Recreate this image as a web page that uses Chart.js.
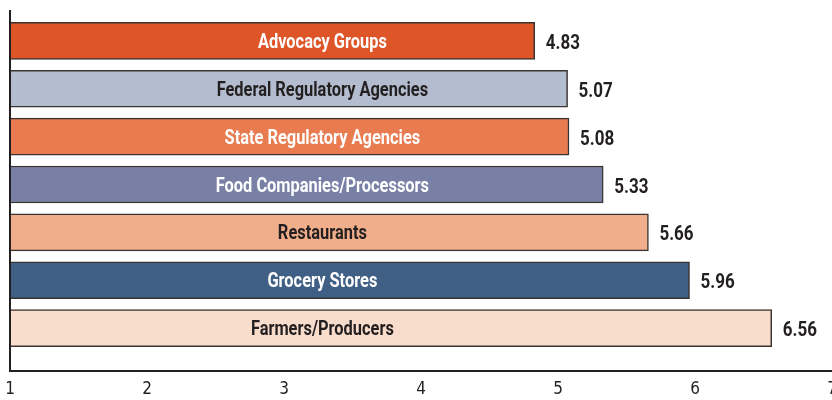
<!DOCTYPE html>
<html>
<head>
<meta charset="utf-8">
<script src="https://cdn.jsdelivr.net/npm/chart.js@4/dist/chart.umd.min.js"></script>
<style>
  html, body { margin: 0; padding: 0; background: #fff; }
  #wrap { width: 832px; height: 400px; position: relative; }
</style>
</head>
<body>
<div id="wrap"><canvas id="trustChart"></canvas></div>
<script>
const categories = ['Advocacy Groups', 'Federal Regulatory Agencies', 'State Regulatory Agencies',
    'Food Companies/Processors', 'Restaurants', 'Grocery Stores', 'Farmers/Producers'];
const scores = [4.83, 5.07, 5.08, 5.33, 5.66, 5.96, 6.56];
const xTicks = [1, 2, 3, 4, 5, 6, 7];
const barColors = ['#de5628', '#b4bdcf', '#e87b50', '#7880a6', '#f0ae8a', '#3f5f85', '#f8ddcc'];
const textColors = ['#ffffff', '#231f20', '#ffffff', '#ffffff', '#231f20', '#ffffff', '#231f20'];

const FONT = 'Roboto, "DejaVu Sans", sans-serif';
const INK = '#231f20';

// squeeze text horizontally to fake a condensed face
function condensedText(ctx, text, x, y, squeeze, align) {
    ctx.save();
    ctx.translate(x, y);
    ctx.scale(squeeze, 1);
    ctx.textAlign = align;
    ctx.fillText(text, 0, 0);
    ctx.restore();
}

// axis lines + in-bar and end-of-bar labels
const labelPlugin = {
    id: 'barLabels',
    afterDatasetsDraw(chart) {
        const ctx = chart.ctx;
        const area = chart.chartArea;
        const xs = chart.scales.x;
        const meta = chart.getDatasetMeta(0);
        ctx.save();
        ctx.textBaseline = 'middle';
        ctx.font = 'bold 20px ' + FONT;
        meta.data.forEach((bar, i) => {
            ctx.fillStyle = textColors[i];
            condensedText(ctx, categories[i], xs.getPixelForValue(3.28), bar.y + 2, 0.82, 'center');
            ctx.fillStyle = INK;
            condensedText(ctx, scores[i].toFixed(2), bar.x + 11, bar.y + 3, 0.85, 'left');
        });
        // axes
        ctx.strokeStyle = INK;
        ctx.lineWidth = 2;
        ctx.beginPath();
        ctx.moveTo(area.left, area.top - 7);
        ctx.lineTo(area.left, area.bottom + 19);
        ctx.lineTo(area.right, area.bottom + 19);
        ctx.stroke();
        ctx.restore();
    }
};

new Chart(document.getElementById('trustChart'), {
    type: 'bar',
    data: {
        labels: categories,
        datasets: [{
            data: scores,
            backgroundColor: barColors,
            borderColor: '#3b3330',
            borderWidth: 1.5,
            borderSkipped: false,
            barThickness: 37
        }]
    },
    options: {
        indexAxis: 'y',
        responsive: true,
        maintainAspectRatio: false,
        animation: false,
        layout: { padding: { left: 10, right: 0, top: 17, bottom: 0 } },
        plugins: { legend: { display: false }, tooltip: { enabled: false } },
        scales: {
            x: {
                type: 'linear',
                min: 1,
                max: 7,
                afterBuildTicks(scale) { scale.ticks = xTicks.map(v => ({ value: v })); },
                afterFit(scale) { scale.paddingLeft = 0; scale.paddingRight = 0; scale.height = 48; },
                grid: { display: false, drawTicks: false },
                border: { display: false },
                ticks: { color: INK, padding: 27, maxRotation: 0, font: { family: '"DejaVu Sans Condensed", "DejaVu Sans", sans-serif', size: 17 } }
            },
            y: {
                display: false,
                offset: true
            }
        }
    },
    plugins: [labelPlugin]
});
</script>
</body>
</html>
